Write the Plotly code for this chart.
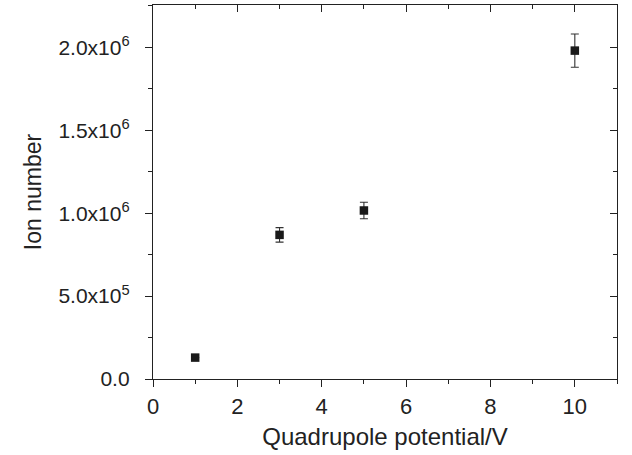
import plotly.graph_objects as go

potential = [1, 3, 5, 10]
ion_number = [1.29e5, 8.69e5, 1.016e6, 1.98e6]
ion_error = [0, 4.4e4, 5.0e4, 1.0e5]

y_tickvals = [0, 5e5, 1e6, 1.5e6, 2e6]
y_ticktext = ["0.0", "5.0x10<sup>5</sup>", "1.0x10<sup>6</sup>", "1.5x10<sup>6</sup>", "2.0x10<sup>6</sup>"]
x_tickvals = [0, 2, 4, 6, 8, 10]

xr = [0, 11]
yr = [0, 2.255e6]
axcol = "#222222"
font = "Liberation Sans, Arial, sans-serif"

fig = go.Figure()
fig.add_trace(go.Scatter(
    x=potential, y=ion_number, mode="markers",
    marker=dict(symbol="square", size=8.5, color="#1a1a1a", line=dict(width=0)),
    error_y=dict(type="data", array=ion_error, visible=True, color="#333333", thickness=1.1, width=4),
    showlegend=False, cliponaxis=False,
))
# invisible copy on the top/right axes so that they are drawn
fig.add_trace(go.Scatter(x=potential, y=ion_number, xaxis="x2", yaxis="y2", mode="markers",
                         marker=dict(opacity=0), showlegend=False, hoverinfo="skip"))

fig.update_layout(
    width=632, height=455,
    margin=dict(l=153, r=15, t=5, b=76),
    paper_bgcolor="white", plot_bgcolor="rgba(0,0,0,0)",
    font=dict(family=font, size=21, color="#222222"),
    xaxis=dict(
        range=xr, showgrid=False, zeroline=False, showline=True, linecolor=axcol, linewidth=1.3,
        mirror=True,
        ticks="outside", ticklen=7, tickwidth=1.3, tickcolor=axcol,
        tickvals=x_tickvals, tickfont=dict(size=22),
        minor=dict(ticks="outside", dtick=1, ticklen=4, tickwidth=1.2, tickcolor=axcol),
        title=dict(text="Quadrupole potential/V", font=dict(size=24), standoff=10),
    ),
    yaxis=dict(
        range=yr, showgrid=False, zeroline=False, showline=True, linecolor=axcol, linewidth=1.3,
        mirror=True,
        ticks="outside", ticklen=7, tickwidth=1.3, tickcolor=axcol,
        tickvals=y_tickvals, ticktext=y_ticktext, tickfont=dict(size=21),
        ticklabelstandoff=11,
        minor=dict(ticks="outside", dtick=2.5e5, ticklen=4, tickwidth=1.2, tickcolor=axcol),
        title=dict(text="Ion number", font=dict(size=23), standoff=10),
    ),
    xaxis2=dict(
        overlaying="x", anchor="y", side="top", range=xr, showgrid=False, zeroline=False,
        showline=False, ticks="inside", ticklen=7, tickwidth=1.3, tickcolor=axcol,
        tickvals=x_tickvals, ticktext=[""] * len(x_tickvals), showticklabels=True, automargin=False,
        minor=dict(ticks="inside", dtick=1, ticklen=4, tickwidth=1.2, tickcolor=axcol),
    ),
    yaxis2=dict(
        overlaying="y", anchor="x", side="right", range=yr, showgrid=False, zeroline=False,
        showline=False, ticks="inside", ticklen=7, tickwidth=1.3, tickcolor=axcol,
        tickvals=y_tickvals, ticktext=[""] * len(y_tickvals), showticklabels=True, automargin=False,
        minor=dict(ticks="inside", dtick=2.5e5, ticklen=4, tickwidth=1.2, tickcolor=axcol),
    ),
)

fig.write_html("out.html", config={"displayModeBar": False},
               post_script="document.body.style.margin='0';")
